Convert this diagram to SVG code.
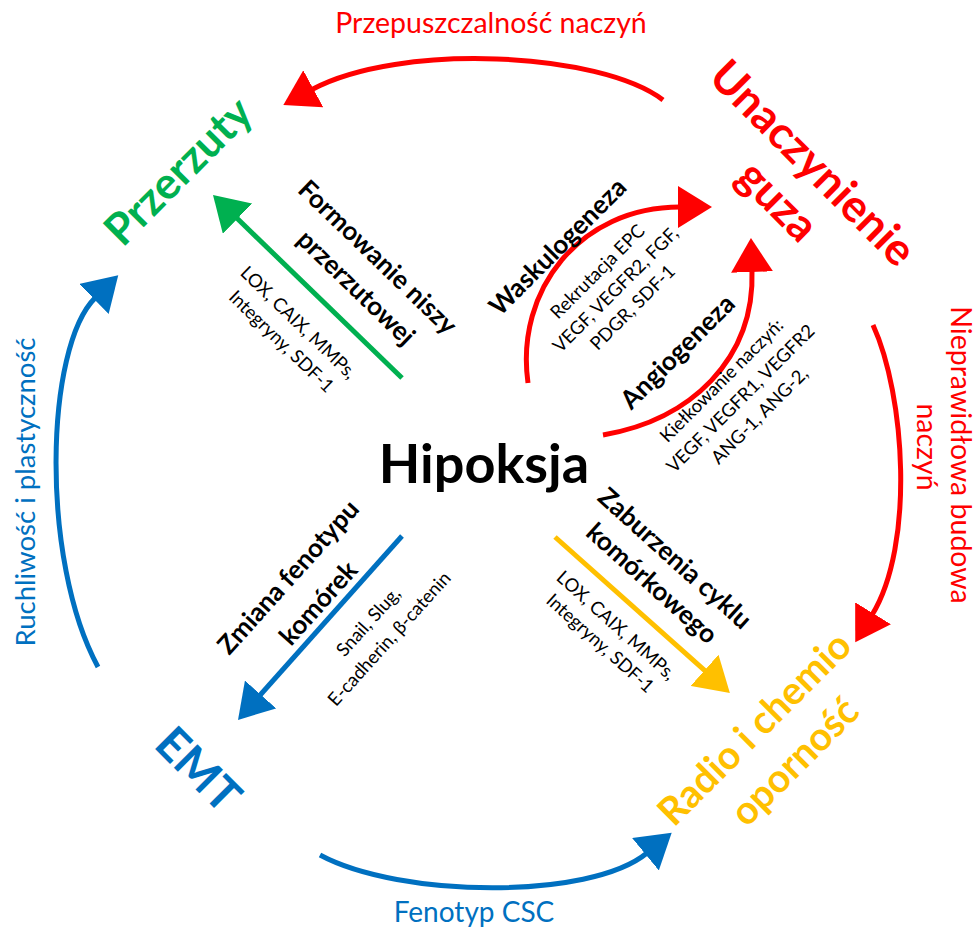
<svg xmlns="http://www.w3.org/2000/svg" width="978" height="931" viewBox="0 0 978 931">
<style>
text{font-family:Lato,"Open Sans","Liberation Sans",sans-serif;text-anchor:middle}
.node{font-weight:bold}
.bl{font-weight:bold;font-size:26px;fill:#000}
.sm{font-size:18.5px;fill:#000}
.ol{font-size:28.5px}
.red{fill:#FF0000}.grn{fill:#00B050}.blu{fill:#0070C0}.yel{fill:#FFC000}
.c{fill:none;stroke-width:5}
</style>
<defs>
<marker id="mr" markerUnits="userSpaceOnUse" markerWidth="36" markerHeight="42" refX="2" refY="21" orient="auto"><path d="M0,0L34,21L0,42z" fill="#FF0000"/></marker>
<marker id="mg" markerUnits="userSpaceOnUse" markerWidth="36" markerHeight="42" refX="2" refY="21" orient="auto"><path d="M0,0L34,21L0,42z" fill="#00B050"/></marker>
<marker id="mb" markerUnits="userSpaceOnUse" markerWidth="36" markerHeight="42" refX="2" refY="21" orient="auto"><path d="M0,0L34,21L0,42z" fill="#0070C0"/></marker>
<marker id="my" markerUnits="userSpaceOnUse" markerWidth="36" markerHeight="42" refX="2" refY="21" orient="auto"><path d="M0,0L34,21L0,42z" fill="#FFC000"/></marker>
</defs>
<rect width="978" height="931" fill="#fff"/>
<g id="connectors">
<path class="c" stroke="#FF0000" marker-end="url(#mr)" d="M663,100C600,52 400,42 311.5,89.7"/>
<path class="c" stroke="#FF0000" marker-end="url(#mr)" d="M873,325C905,395 915,545 872,615"/>
<path class="c" stroke="#0070C0" marker-end="url(#mb)" d="M320,855C400,898 590,900 647,853"/>
<path class="c" stroke="#0070C0" marker-end="url(#mb)" d="M98,667C40,560 45,347 95.4,297.6"/>
<path class="c" stroke="#00B050" marker-end="url(#mg)" d="M402,378L236,217.3"/>
<path class="c" stroke="#0070C0" marker-end="url(#mb)" d="M402,536L259.3,696"/>
<path class="c" stroke="#FFC000" marker-end="url(#my)" d="M555,537L706,671.7"/>
<path class="c" stroke="#FF0000" marker-end="url(#mr)" d="M528,383C515,290 580,207 680,207"/>
<path class="c" stroke="#FF0000" marker-end="url(#mr)" d="M603,435C690,420 755,360 752,270"/>
</g>
<g id="hipoksja"><text class="node" font-size="54" x="484" y="483">Hipoksja</text></g>
<g id="przerzuty"><text class="node grn" font-size="44" transform="translate(189,182) rotate(-45)">Przerzuty</text></g>
<g id="unaczynienie"><text class="node red" font-size="45" transform="translate(802,174) rotate(45)">Unaczynienie</text><text class="node red" font-size="45" transform="translate(767,212) rotate(45)">guza</text></g>
<g id="radio"><text class="node yel" font-size="39" transform="translate(764,738) rotate(-45)">Radio i chemio</text><text class="node yel" font-size="39" transform="translate(804,771) rotate(-45)">oporność</text></g>
<g id="emt"><text class="node blu" font-size="46" transform="translate(187,781) rotate(45)">EMT</text></g>
<g id="label-przepuszczalnosc"><text class="ol red" x="491" y="33">Przepuszczalność naczyń</text></g>
<g id="label-nieprawidlowa"><text class="ol red" transform="translate(951,455) rotate(90)">Nieprawidłowa budowa</text><text class="ol red" transform="translate(916.5,447) rotate(90)">naczyń</text></g>
<g id="label-fenotyp"><text class="ol blu" font-size="28" style="font-size:28px" x="474" y="922">Fenotyp CSC</text></g>
<g id="label-ruchliwosc"><text class="ol blu" style="font-size:27.5px" transform="translate(35,492) rotate(-90)">Ruchliwość i plastyczność</text></g>
<g id="label-formowanie">
<text class="bl" transform="translate(371.5,263.6) rotate(44)">Formowanie niszy</text>
<text class="bl" transform="translate(350,294) rotate(44)">przerzutowej</text>
<text class="sm" transform="translate(294,327) rotate(44)">LOX, CAIX, MMPs,</text>
<text class="sm" transform="translate(277,346) rotate(44)">Integryny, SDF-1</text>
</g>
<g id="label-waskulogeneza">
<text class="bl" transform="translate(564,253) rotate(-45)">Waskulogeneza</text>
<text class="sm" transform="translate(602,276) rotate(-45)">Rekrutacja EPC</text>
<text class="sm" transform="translate(620,294) rotate(-45)">VEGF, VEGFR2, FGF,</text>
<text class="sm" transform="translate(637,312) rotate(-45)">PDGR, SDF-1</text>
</g>
<g id="label-angiogeneza">
<text class="bl" transform="translate(684,358) rotate(-45)">Angiogeneza</text>
<text class="sm" transform="translate(726,385) rotate(-45)">Kiełkowanie naczyń:</text>
<text class="sm" transform="translate(745,403) rotate(-45)">VEGF, VEGFR1, VEGFR2</text>
<text class="sm" transform="translate(764,420) rotate(-45)">ANG-1, ANG-2,</text>
</g>
<g id="label-zmiana">
<text class="bl" transform="translate(295,583) rotate(-48)">Zmiana fenotypu</text>
<text class="bl" transform="translate(325,609) rotate(-48)">komórek</text>
<text class="sm" transform="translate(373,626) rotate(-48)">Snail, Slug,</text>
<text class="sm" transform="translate(394,643) rotate(-48)">E-cadherin, β-catenin</text>
</g>
<g id="label-zaburzenia">
<text class="bl" transform="translate(669,565) rotate(42)">Zaburzenia cyklu</text>
<text class="bl" transform="translate(646,590) rotate(42)">komórkowego</text>
<text class="sm" transform="translate(612,630) rotate(42)">LOX, CAIX, MMPs,</text>
<text class="sm" transform="translate(596,648) rotate(42)">Integryny, SDF-1</text>
</g>
</svg>
